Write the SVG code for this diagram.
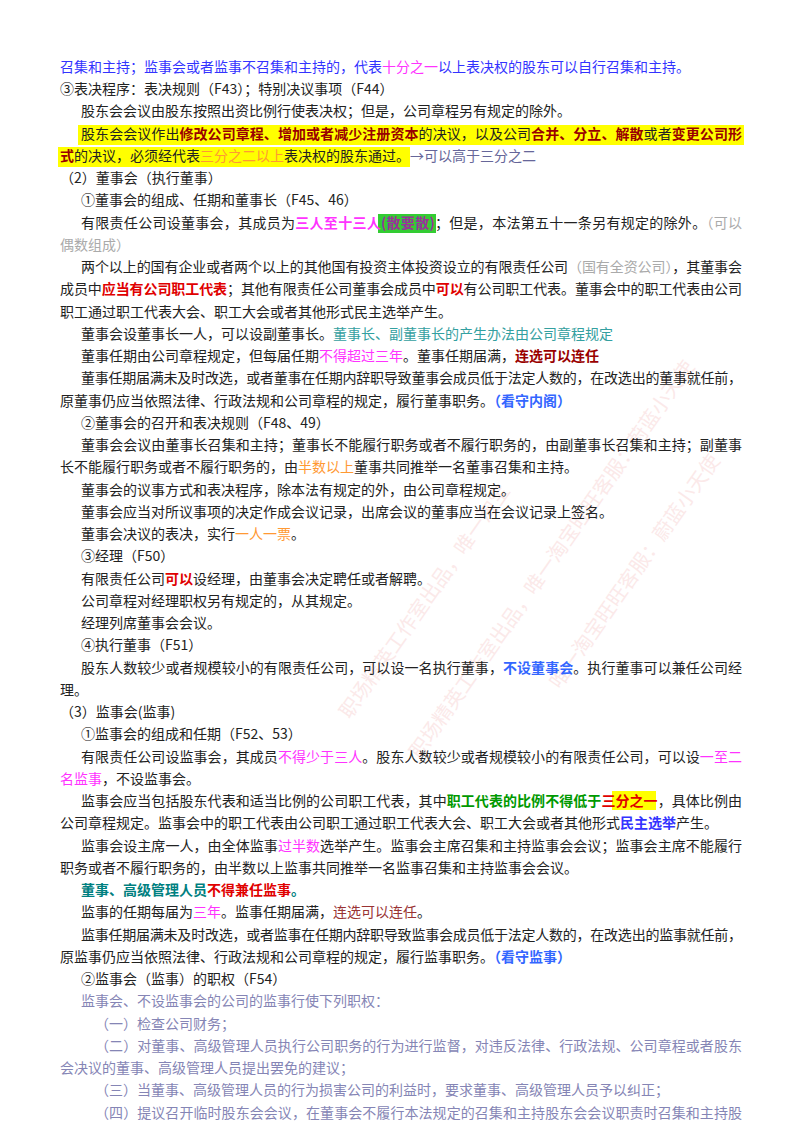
<svg xmlns="http://www.w3.org/2000/svg" width="800" height="1132" viewBox="0 0 800 1132">
<style>
text{font-family:"Noto Sans CJK SC","Noto Sans",sans-serif;font-size:14px;fill:#222}
.b{font-weight:bold}
.blue{fill:#3333ff}.mag{fill:#ff33ff}.dr{fill:#990000}.or{fill:#ff9933}.gb{fill:#666699}.pur{fill:#993399}
.gr{fill:#aaaaaa}.red{fill:#e00000}.teal{fill:#33a0a0}.lb{fill:#3366ff}.grn{fill:#009900}.tl{fill:#008080}
.br{fill:#993333}.lp{fill:#8585b5}
.wm{font-size:20px;fill:#f4b8b8;opacity:0.3}
</style>
<rect width="800" height="1132" fill="#fff"/>
<g id="watermark">
<text class="wm" transform="translate(420,760) rotate(-55)">职场精英工作室出品，唯一淘宝旺旺客服：蔚蓝小天使</text>
<text class="wm" transform="translate(350,720) rotate(-55)">职场精英工作室出品，唯一淘宝</text>
<text class="wm" transform="translate(560,690) rotate(-55)">唯一淘宝旺旺客服：蔚蓝小天使</text>
</g>
<g id="hl">
<rect x="78" y="125" width="666" height="20" fill="#ffff00"/>
<rect x="58" y="147" width="352" height="20" fill="#ffff00"/>
<rect x="378" y="214" width="58" height="19" fill="#33cc33"/>
<rect x="612" y="791" width="44" height="19" fill="#ffff00"/>
</g>
<g id="text">
<text x="60" y="72" class="blue">召集和主持；监事会或者监事不召集和主持的，代表<tspan class="mag">十分之一</tspan>以上表决权的股东可以自行召集和主持。</text>
<text x="60" y="94">③表决程序：表决规则（F43）；特别决议事项（F44）</text>
<text x="81" y="116">股东会会议由股东按照出资比例行使表决权；但是，公司章程另有规定的除外。</text>
<text x="81" y="139" textLength="661">股东会会议作出<tspan class="b dr">修改公司章程、增加或者减少注册资本</tspan>的决议，以及公司<tspan class="b dr">合并、分立、解散</tspan>或者<tspan class="b dr">变更公司形</tspan></text>
<text x="60" y="161"><tspan class="b dr">式</tspan>的决议，必须经代表<tspan class="or">三分之二以上</tspan>表决权的股东通过。<tspan class="gb">→可以高于三分之二</tspan></text>
<text x="60" y="183">（2）董事会（执行董事）</text>
<text x="81" y="205">①董事会的组成、任期和董事长（F45、46）</text>
<text x="81" y="228" textLength="661">有限责任公司设董事会，其成员为<tspan class="b mag">三人至十三人</tspan><tspan class="b pur">(散要散)</tspan>；但是，本法第五十一条另有规定的除外。<tspan class="gr">（可以</tspan></text>
<text x="60" y="250" class="gr">偶数组成）</text>
<text x="81" y="272" textLength="661">两个以上的国有企业或者两个以上的其他国有投资主体投资设立的有限责任公司<tspan class="gr">（国有全资公司）</tspan>，其董事会</text>
<text x="60" y="294" textLength="682">成员中<tspan class="b red">应当有公司职工代表</tspan>；其他有限责任公司董事会成员中<tspan class="b red">可以</tspan>有公司职工代表。董事会中的职工代表由公司</text>
<text x="60" y="317">职工通过职工代表大会、职工大会或者其他形式民主选举产生。</text>
<text x="81" y="339">董事会设董事长一人，可以设副董事长。<tspan class="teal">董事长、副董事长的产生办法由公司章程规定</tspan></text>
<text x="81" y="361">董事任期由公司章程规定，但每届任期<tspan class="mag">不得超过三年</tspan>。董事任期届满，<tspan class="b dr">连选可以连任</tspan></text>
<text x="81" y="383" textLength="661">董事任期届满未及时改选，或者董事在任期内辞职导致董事会成员低于法定人数的，在改选出的董事就任前，</text>
<text x="60" y="406">原董事仍应当依照法律、行政法规和公司章程的规定，履行董事职务。<tspan class="b lb">（看守内阁）</tspan></text>
<text x="81" y="428">②董事会的召开和表决规则（F48、49）</text>
<text x="81" y="450" textLength="661">董事会会议由董事长召集和主持；董事长不能履行职务或者不履行职务的，由副董事长召集和主持；副董事</text>
<text x="60" y="472">长不能履行职务或者不履行职务的，由<tspan class="or">半数以上</tspan>董事共同推举一名董事召集和主持。</text>
<text x="81" y="495">董事会的议事方式和表决程序，除本法有规定的外，由公司章程规定。</text>
<text x="81" y="517">董事会应当对所议事项的决定作成会议记录，出席会议的董事应当在会议记录上签名。</text>
<text x="81" y="539">董事会决议的表决，实行<tspan class="or">一人一票</tspan>。</text>
<text x="81" y="561">③经理（F50）</text>
<text x="81" y="584">有限责任公司<tspan class="b red">可以</tspan>设经理，由董事会决定聘任或者解聘。</text>
<text x="81" y="606">公司章程对经理职权另有规定的，从其规定。</text>
<text x="81" y="628">经理列席董事会会议。</text>
<text x="81" y="650">④执行董事（F51）</text>
<text x="81" y="673" textLength="661">股东人数较少或者规模较小的有限责任公司，可以设一名执行董事，<tspan class="b lb">不设董事会</tspan>。执行董事可以兼任公司经</text>
<text x="60" y="695">理。</text>
<text x="60" y="717">（3）监事会(监事)</text>
<text x="81" y="739">①监事会的组成和任期（F52、53）</text>
<text x="81" y="762" textLength="661">有限责任公司设监事会，其成员<tspan class="mag">不得少于三人</tspan>。股东人数较少或者规模较小的有限责任公司，可以设<tspan class="mag">一至二</tspan></text>
<text x="60" y="784"><tspan class="mag">名监事</tspan>，不设监事会。</text>
<text x="81" y="806" textLength="661">监事会应当包括股东代表和适当比例的公司职工代表，其中<tspan class="b grn">职工代表的比例不得低于</tspan><tspan class="b red">三分之一</tspan>，具体比例由</text>
<text x="60" y="828">公司章程规定。监事会中的职工代表由公司职工通过职工代表大会、职工大会或者其他形式<tspan class="b blue">民主选举</tspan>产生。</text>
<text x="81" y="851" textLength="661">监事会设主席一人，由全体监事<tspan class="mag">过半数</tspan>选举产生。监事会主席召集和主持监事会会议；监事会主席不能履行</text>
<text x="60" y="873">职务或者不履行职务的，由半数以上监事共同推举一名监事召集和主持监事会会议。</text>
<text x="81" y="895" class="b"><tspan class="tl">董事、高级管理人员</tspan><tspan class="red">不得兼任监事</tspan><tspan class="tl">。</tspan></text>
<text x="81" y="917">监事的任期每届为<tspan class="mag">三年</tspan>。监事任期届满，<tspan class="br">连选可以连任</tspan>。</text>
<text x="81" y="940" textLength="661">监事任期届满未及时改选，或者监事在任期内辞职导致监事会成员低于法定人数的，在改选出的监事就任前，</text>
<text x="60" y="962">原监事仍应当依照法律、行政法规和公司章程的规定，履行监事职务。<tspan class="b lb">（看守监事）</tspan></text>
<text x="81" y="984">②监事会（监事）的职权（F54）</text>
<text x="81" y="1006" class="lp">监事会、不设监事会的公司的监事行使下列职权：</text>
<text x="95" y="1029" class="lp">（一）检查公司财务；</text>
<text x="95" y="1051" class="lp" textLength="647">（二）对董事、高级管理人员执行公司职务的行为进行监督，对违反法律、行政法规、公司章程或者股东</text>
<text x="60" y="1073" class="lp">会决议的董事、高级管理人员提出罢免的建议；</text>
<text x="95" y="1095" class="lp">（三）当董事、高级管理人员的行为损害公司的利益时，要求董事、高级管理人员予以纠正；</text>
<text x="95" y="1118" class="lp" textLength="647">（四）提议召开临时股东会会议，在董事会不履行本法规定的召集和主持股东会会议职责时召集和主持股</text>
</g>
</svg>
